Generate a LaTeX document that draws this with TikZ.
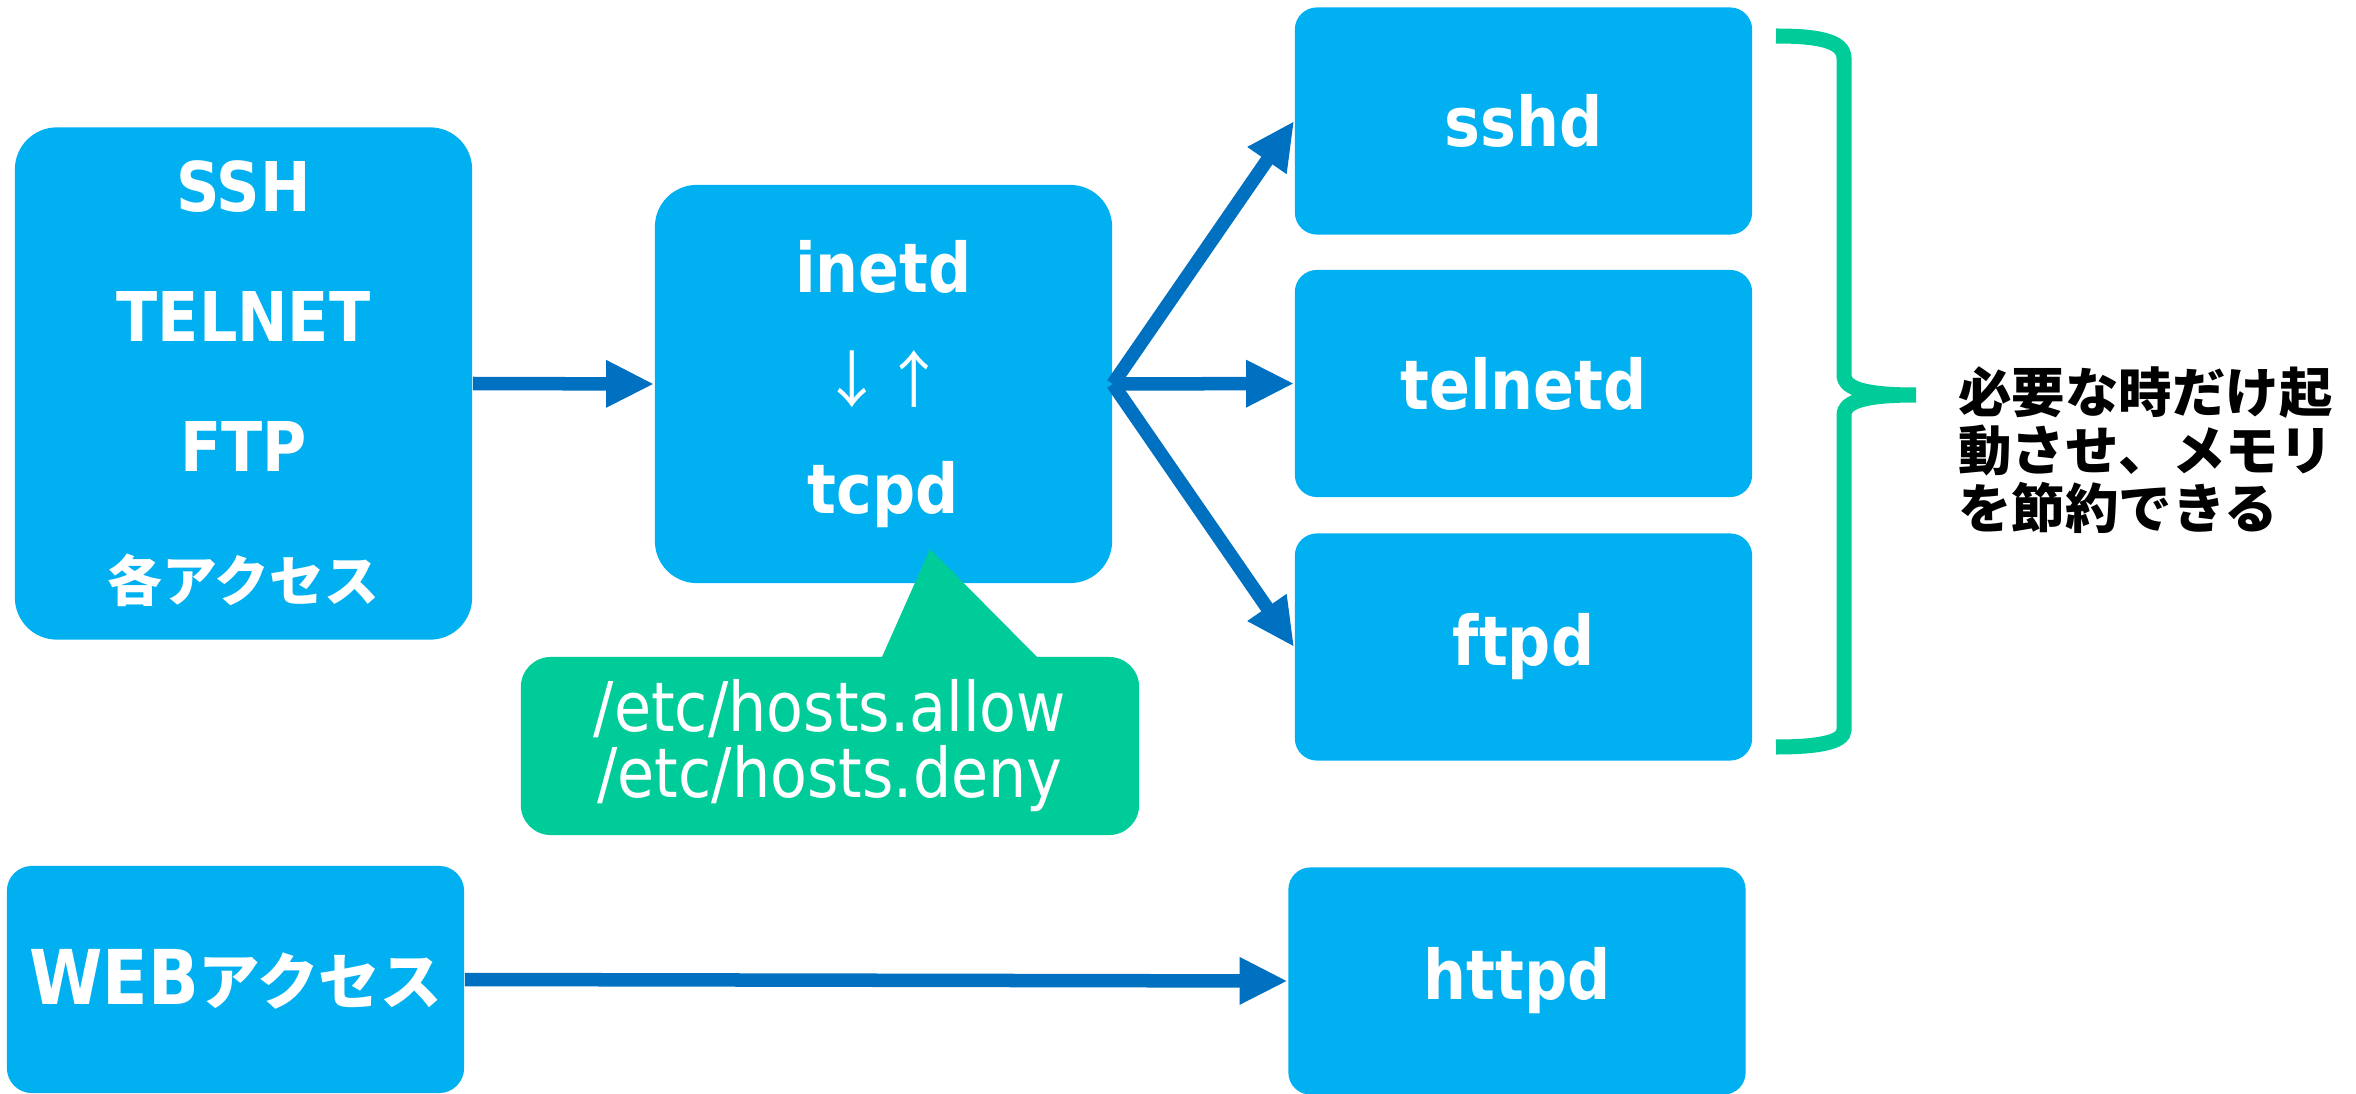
\documentclass[tikz,border=0pt]{standalone}
\usepackage{fontspec}
\setmainfont{DejaVu Sans}[FakeStretch=0.88]
\newfontfamily\jp{Noto Sans CJK JP}
\usetikzlibrary{arrows.meta}
\definecolor{boxblue}{HTML}{00B0F0}
\definecolor{arrowblue}{HTML}{0070C0}
\definecolor{notegreen}{HTML}{00CC99}
\tikzset{
  big/.style={fill=boxblue, rounded corners=0.42cm, text=white, align=center, minimum width=4.57cm},
  svc/.style={fill=boxblue, rounded corners=0.22cm, text=white, minimum width=4.57cm, minimum height=2.27cm,
    font=\bfseries\fontsize{19.5}{23}\selectfont},
  flow/.style={draw=arrowblue, line width=0.135cm, -{Triangle[length=0.48cm,width=0.44cm]}}
}

\begin{document}
\begin{tikzpicture}[x=0.01cm, y=-0.01cm]
\useasboundingbox (0,0) rectangle (2356,1094);
% clients and super server
\node[big, minimum height=5.12cm, font=\bfseries\fontsize{19.5}{37}\selectfont] (acc) at (243.5,383.5)
  {SSH\\TELNET\\FTP\\{\jp\fontsize{15.6}{37}\selectfont 各アクセス}};
\node[big, minimum height=3.98cm, font=\bfseries\fontsize{19.5}{31.5}\selectfont] (inetd) at (883.5,384)
  {inetd\\{\jp\mdseries\fontsize{17.5}{31.5}\selectfont ↓↑}\\tcpd};
\draw[flow] (acc.east) -- (inetd.west);

% daemons
\foreach \n/\y in {sshd/121, telnetd/383.5, ftpd/647}
  \node[svc] (\n) at (1523.5,\y) {\n};
\foreach \n in {sshd,telnetd,ftpd}
  \draw[flow] (inetd.east) -- (\n.west);

% access control files
\node[fill=notegreen, rounded corners=0.3cm, text=white, align=center, minimum width=6.18cm, minimum height=1.78cm,
  font=\fontsize{19.5}{18.8}\selectfont] (hosts) at (830,746) {/etc/hosts.allow\\/etc/hosts.deny};
\fill[notegreen] (882,657) -- (930,549) -- (1037,657) -- cycle;

% web access goes straight to httpd
\node[svc, rounded corners=0.25cm, font=\bfseries\fontsize{21.5}{23}\selectfont] (web) at (235.5,979.5)
  {WEB{\jp\fontsize{17.5}{23}\selectfont アクセス}};
\node[svc] (httpd) at (1517,981) {httpd};
\draw[flow] (web.east) -- (httpd.west);

% brace and note
\draw[notegreen, line width=0.15cm] (1776,36) .. controls (1815,36) and (1844,40) .. (1844,58) -- (1844,375)
  .. controls (1844,390) and (1870,395) .. (1916,395)
  .. controls (1870,395) and (1844,400) .. (1844,415) -- (1844,730)
  .. controls (1844,743) and (1815,747) .. (1776,747);
\node[anchor=west, align=left, font=\jp\bfseries\fontsize{15.2}{16.6}\selectfont] (memo) at (1946,450)
  {必要な時だけ起\\動させ、メモリ\\を節約できる};
\end{tikzpicture}
\end{document}
